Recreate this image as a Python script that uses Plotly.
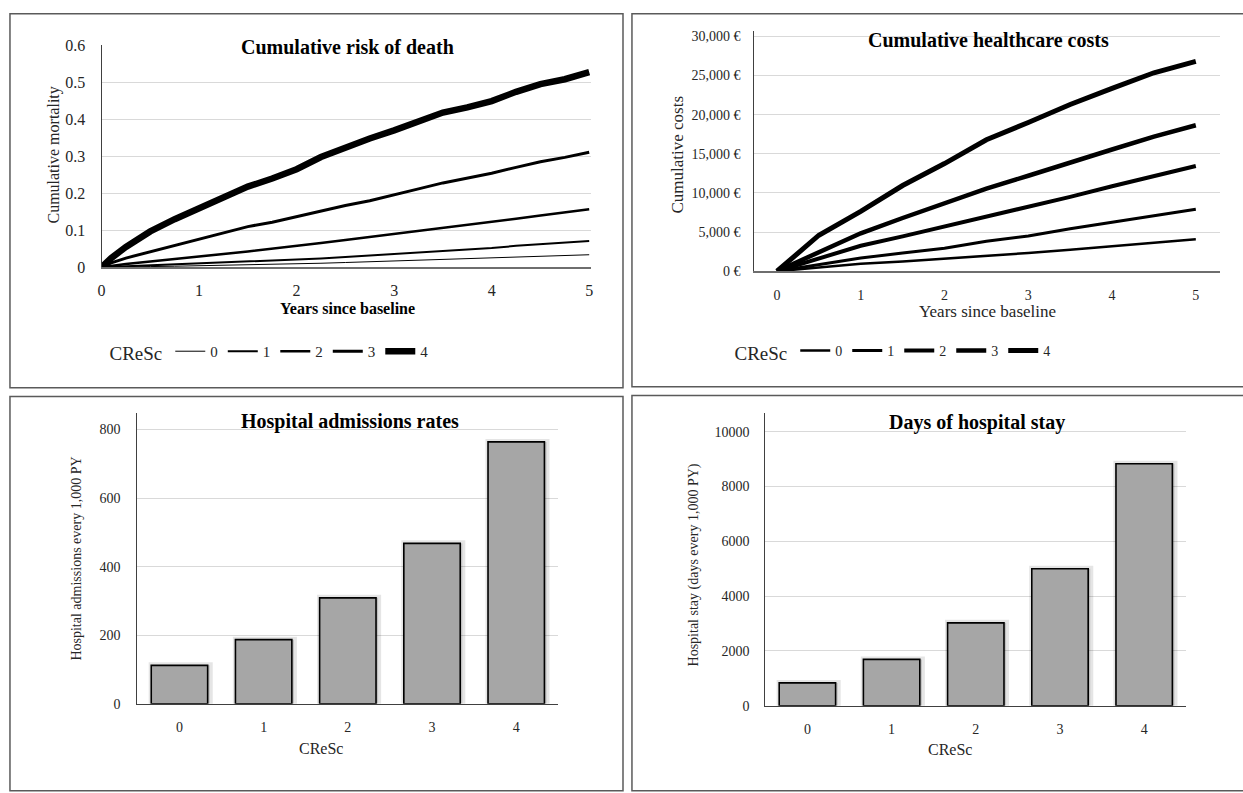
import plotly.graph_objects as go

W, H = 1243, 793

# ---------------- data ----------------
cresc_groups = ["0", "1", "2", "3", "4"]

mort_years = [0, 0.1, 0.25, 0.5, 0.75, 1.0, 1.25, 1.5, 1.75, 2.0, 2.25, 2.5, 2.75,
              3.0, 3.25, 3.5, 3.75, 4.0, 4.25, 4.5, 4.75, 5.0]
mort_0 = [0, 0, 0.001, 0.002, 0.003, 0.004, 0.005, 0.007, 0.008, 0.009, 0.011, 0.013, 0.015,
          0.016, 0.018, 0.021, 0.023, 0.025, 0.027, 0.029, 0.031, 0.034]
mort_1 = [0, 0.001, 0.002, 0.005, 0.007, 0.010, 0.012, 0.015, 0.018, 0.021, 0.024, 0.028, 0.032,
          0.035, 0.040, 0.044, 0.048, 0.052, 0.058, 0.062, 0.066, 0.071]
mort_2 = [0, 0.004, 0.009, 0.016, 0.022, 0.029, 0.036, 0.043, 0.050, 0.058, 0.066, 0.074, 0.082,
          0.090, 0.099, 0.107, 0.114, 0.121, 0.131, 0.140, 0.148, 0.157]
mort_3 = [0, 0.012, 0.025, 0.042, 0.060, 0.077, 0.095, 0.110, 0.122, 0.137, 0.153, 0.167, 0.180,
          0.195, 0.212, 0.228, 0.241, 0.254, 0.270, 0.285, 0.297, 0.311]
mort_4 = [0, 0.025, 0.055, 0.097, 0.130, 0.160, 0.192, 0.218, 0.240, 0.265, 0.298, 0.325, 0.348,
          0.370, 0.395, 0.418, 0.432, 0.449, 0.474, 0.495, 0.508, 0.527]

cost_years = [0, 0.5, 1.0, 1.5, 2.0, 2.5, 3.0, 3.5, 4.0, 4.5, 5.0]
cost_0 = [0, 460, 960, 1250, 1580, 1920, 2330, 2750, 3170, 3630, 4100]
cost_1 = [0, 830, 1680, 2330, 2930, 3830, 4500, 5420, 6250, 7080, 7920]
cost_2 = [0, 1600, 3250, 4450, 5700, 6900, 8150, 9500, 10850, 12200, 13450]
cost_3 = [0, 2400, 4850, 6800, 8750, 10550, 12200, 13950, 15550, 17200, 18650]
cost_4 = [0, 4600, 7650, 10950, 13750, 16800, 19000, 21300, 23350, 25350, 26800]

admissions = [112, 187, 309, 468, 764]
stay_days = [833, 1690, 3024, 5000, 8833]

mort_ticks = [0, 0.1, 0.2, 0.3, 0.4, 0.5, 0.6]
mort_ticktext = ["0", "0.1", "0.2", "0.3", "0.4", "0.5", "0.6"]
cost_ticks = [0, 5000, 10000, 15000, 20000, 25000, 30000]
cost_ticktext = ["0 €", "5,000 €", "10,000 €", "15,000 €", "20,000 €", "25,000 €", "30,000 €"]
adm_ticks = [0, 200, 400, 600, 800]
stay_ticks = [0, 2000, 4000, 6000, 8000, 10000]
year_ticks = [0, 1, 2, 3, 4, 5]

mort_widths = [1, 2, 2.5, 3, 6.5]
cost_widths = [2.5, 3, 4, 4.5, 5]

FONT = "Liberation Serif"
TXT = "#262626"


def fx(p):
    return p / W


def fy(p):
    return 1 - p / H


def tf(size):
    return dict(family=FONT, size=size, color=TXT)


fig = go.Figure()

# ---- top-left: cumulative mortality ----
for name, ys, lw in zip(cresc_groups, [mort_0, mort_1, mort_2, mort_3, mort_4], mort_widths):
    fig.add_trace(go.Scatter(x=mort_years, y=ys, mode="lines", name=name,
                             line=dict(color="black", width=lw), xaxis="x", yaxis="y",
                             legend="legend"))

# ---- top-right: cumulative costs ----
for name, ys, lw in zip(cresc_groups, [cost_0, cost_1, cost_2, cost_3, cost_4], cost_widths):
    fig.add_trace(go.Scatter(x=cost_years, y=ys, mode="lines", name=name,
                             line=dict(color="black", width=lw), xaxis="x2", yaxis="y2",
                             legend="legend2"))

# ---- bottom bars (soft shadow + bar) ----
for vals, xa, ya in [(admissions, "x3", "y3"), (stay_days, "x4", "y4")]:
    fig.add_trace(go.Bar(x=cresc_groups, y=vals, width=0.69, offset=-0.33,
                         marker=dict(color="rgba(0,0,0,0.16)",
                                     line=dict(color="rgba(0,0,0,0.10)", width=6)),
                         xaxis=xa, yaxis=ya, showlegend=False, hoverinfo="skip"))
    fig.add_trace(go.Bar(x=cresc_groups, y=vals, width=0.67, offset=-0.335,
                         marker=dict(color="#A6A6A6", line=dict(color="black", width=1.6)),
                         xaxis=xa, yaxis=ya, showlegend=False))

grid = "#D9D9D9"

layout = dict(
    width=W, height=H,
    margin=dict(l=0, r=0, t=0, b=0),
    paper_bgcolor="white", plot_bgcolor="white",
    font=dict(family=FONT, color=TXT),
    barmode="overlay",
    showlegend=True,
    # top-left
    xaxis=dict(domain=[fx(98), fx(590)], range=[0, 5.02], tickmode="array", tickvals=year_ticks,
               anchor="y", showline=True, linecolor="#6e6e6e", linewidth=1.5,
               showgrid=False, zeroline=False, ticks="",
               tickfont=tf(16), ticklabelstandoff=8),
    yaxis=dict(domain=[fy(265), fy(38)], range=[0, 0.6], tickmode="array",
               tickvals=mort_ticks, ticktext=mort_ticktext,
               anchor="x", showline=True, linecolor="#404040", linewidth=1,
               showgrid=True, gridcolor=grid, gridwidth=1.2, zeroline=False, ticks="",
               tickfont=tf(16), ticklabelstandoff=12),
    # top-right
    xaxis2=dict(domain=[fx(754), fx(1222)], range=[-0.27, 5.29], tickmode="array",
                tickvals=year_ticks, anchor="y2", showline=True, linecolor="#6e6e6e",
                linewidth=1.5, showgrid=False, zeroline=False, ticks="",
                tickfont=tf(14), ticklabelstandoff=10),
    yaxis2=dict(domain=[fy(269), fy(23)], range=[0, 30750], tickmode="array",
                tickvals=cost_ticks, ticktext=cost_ticktext, anchor="x2", showline=True,
                linecolor="#404040", linewidth=1, showgrid=True, gridcolor=grid, gridwidth=1.2,
                zeroline=False, ticks="", tickfont=tf(14), ticklabelstandoff=10),
    # bottom-left
    xaxis3=dict(domain=[fx(134), fx(557)], type="category", range=[-0.5, 4.5],
                anchor="y3", showline=True, linecolor="#404040", linewidth=1.2,
                showgrid=False, zeroline=False, ticks="",
                tickfont=tf(14), ticklabelstandoff=10),
    yaxis3=dict(domain=[fy(711), fy(414)], range=[0, 848], tickmode="array", tickvals=adm_ticks,
                anchor="x3", showline=True, linecolor="#404040", linewidth=1.2,
                showgrid=True, gridcolor=grid, gridwidth=1, zeroline=False, ticks="",
                tickfont=tf(14), ticklabelstandoff=13),
    # bottom-right
    xaxis4=dict(domain=[fx(765), fx(1188)], type="category", range=[-0.5, 4.5],
                anchor="y4", showline=True, linecolor="#404040", linewidth=1.2,
                showgrid=False, zeroline=False, ticks="",
                tickfont=tf(14), ticklabelstandoff=10),
    yaxis4=dict(domain=[fy(713), fy(414)], range=[0, 10680], tickmode="array",
                tickvals=stay_ticks, tickformat="d",
                anchor="x4", showline=True, linecolor="#404040", linewidth=1.2,
                showgrid=True, gridcolor=grid, gridwidth=1, zeroline=False, ticks="",
                tickfont=tf(14), ticklabelstandoff=12),
    legend=dict(orientation="h", x=fx(104), y=fy(352), xanchor="left", yanchor="middle",
                title=dict(text="CReSc", side="left", font=tf(19)),
                font=tf(15), bgcolor="rgba(0,0,0,0)", itemclick=False),
    legend2=dict(orientation="h", x=fx(732), y=fy(352), xanchor="left", yanchor="middle",
                 title=dict(text="CReSc", side="left", font=tf(19)),
                 font=tf(14), bgcolor="rgba(0,0,0,0)", itemclick=False),
)
fig.update_layout(**layout)

# ---- titles & axis titles as annotations ----
ann = [
    ("<b>Cumulative risk of death</b>", 345, 40, 20, 0),
    ("<b>Cumulative healthcare costs</b>", 989, 33, 20, 0),
    ("<b>Hospital admissions rates</b>", 348, 423, 20, 0),
    ("<b>Days of hospital stay</b>", 978, 424, 20, 0),
    ("Cumulative mortality", 50, 150, 16, -90),
    ("<b>Years since baseline</b>", 345, 307, 16, 0),
    ("Cumulative costs", 677, 150, 17, -90),
    ("Years since baseline", 988, 310, 17, 0),
    ("Hospital admissions every 1,000 PY", 73, 563, 14, -90),
    ("CReSc", 319, 757, 16, 0),
    ("Hospital stay (days every 1,000 PY)", 693, 569, 14, -90),
    ("CReSc", 951, 758, 16, 0),
]
for text, x, y, size, ang in ann:
    fig.add_annotation(text=text, x=fx(x), y=fy(y), xref="paper", yref="paper",
                       showarrow=False, xanchor="center", yanchor="middle",
                       textangle=ang,
                       font=dict(size=size, family=FONT, color="black" if "<b>" in text else TXT))

# ---- panel borders ----
for x0, y0, x1, y1 in [(6, 6, 622, 388), (631, 6, 1250, 387), (6, 397, 622, 800), (631, 396, 1250, 800)]:
    fig.add_shape(type="rect", xref="paper", yref="paper",
                  x0=fx(x0), x1=fx(x1), y0=fy(y1), y1=fy(y0),
                  line=dict(color="#5a5a5a", width=1.5), fillcolor="rgba(0,0,0,0)", layer="below")

fig.write_html("out.html")
